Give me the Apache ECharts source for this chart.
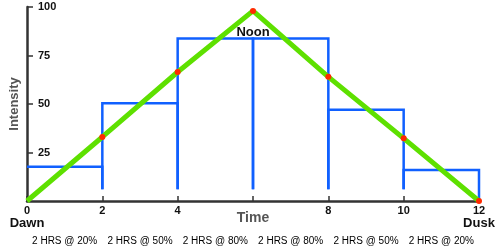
<!DOCTYPE html>
<html>
<head>
<meta charset="utf-8">
<script src="https://cdn.jsdelivr.net/npm/echarts@6/dist/echarts.min.js"></script>
<style>
html,body{margin:0;padding:0;background:#fff;}
#c{width:504px;height:252px;}
</style>
</head>
<body>
<div id="c"></div>
<script>
// Data
const hours = [0, 2, 4, 6, 8, 10, 12];
const intensity = [0, 33, 66.5, 98, 64, 32.3, 0];
const blockStart = [0, 2, 4, 6, 8, 10];
const blockEnd = [2, 4, 6, 8, 10, 12];
const blockLevel = [17.7, 50.4, 83.7, 83.7, 47, 16];
const blockLabels = ['2 HRS @ 20%', '2 HRS @ 50%', '2 HRS @ 80%', '2 HRS @ 80%', '2 HRS @ 50%', '2 HRS @ 20%'];
const xTickLabels = {0: '0', 2: '2', 4: '4', 6: '', 8: '8', 10: '10', 12: '12'};
const yTicks = [25, 50, 75, 100];

const FONT = '"Liberation Sans", Arial, sans-serif';
const chart = echarts.init(document.getElementById('c'));

const blockData = blockStart.map((s, i) => [s, blockEnd[i], blockLevel[i]]);
const lineData = hours.map((h, i) => {
  const item = { value: [h, intensity[i]] };
  if (i === 0) item.symbol = 'none';
  if (h === 6) item.label = {
    show: true, formatter: 'Noon', position: 'bottom', distance: 12,
    fontFamily: FONT, fontWeight: 'bold', fontSize: 13, color: '#111'
  };
  return item;
});

chart.setOption({
  animation: false,
  grid: { left: 25, right: 25, top: 7, bottom: 51, containLabel: false },
  xAxis: [{
    type: 'value', min: 0, max: 12, interval: 2,
    axisLine: { show: true, onZero: false, lineStyle: { color: '#333', width: 2.5 } },
    axisTick: { show: true, inside: true, length: 5, lineStyle: { color: '#333', width: 1.5 } },
    splitLine: { show: false },
    axisLabel: {
      margin: 4,
      formatter: v => {
        const t = xTickLabels[v] || '';
        if (v === 0) return t + '\n{b|Dawn}';
        if (v === 12) return t + '\n{b|Dusk}';
        return t;
      },
      fontFamily: FONT, fontWeight: 'bold', fontSize: 11, color: '#111', lineHeight: 11,
      rich: { b: { fontFamily: FONT, fontWeight: 'bold', fontSize: 13, color: '#111', lineHeight: 15 } }
    },
    name: 'Time', nameLocation: 'middle', nameGap: 10, nameMoveOverlap: false,
    nameTextStyle: { fontFamily: FONT, fontWeight: 'bold', fontSize: 14, color: '#555' }
  }, {
    type: 'value', min: 0, max: 12, interval: 1, position: 'bottom', offset: 35,
    axisLine: { show: false }, axisTick: { show: false }, splitLine: { show: false },
    axisLabel: {
      margin: 0,
      showMinLabel: false, showMaxLabel: false,
      formatter: v => (v % 2 === 1 ? blockLabels[(v - 1) / 2] : ''),
      fontFamily: FONT, fontSize: 10, color: '#000'
    }
  }],
  yAxis: {
    type: 'value', min: 0, max: 100, interval: 25,
    axisLine: { show: true, lineStyle: { color: '#333', width: 2.5 } },
    axisTick: { show: true, inside: true, length: 6, lineStyle: { color: '#333', width: 1.5 } },
    splitLine: { show: false },
    axisLabel: {
      inside: true, margin: 11, showMinLabel: false,
      formatter: v => (yTicks.indexOf(v) >= 0 ? String(v) : ''),
      fontFamily: FONT, fontWeight: 'bold', fontSize: 11, color: '#111'
    },
    name: 'Intensity', nameLocation: 'middle', nameGap: 6, nameRotate: 90, nameMoveOverlap: false,
    nameTextStyle: { fontFamily: FONT, fontWeight: 'bold', fontSize: 13, color: '#555', verticalAlign: 'bottom' }
  },
  series: [{
    type: 'custom',
    data: blockData,
    encode: { x: [0, 1], y: 2 },
    z: 2,
    renderItem: function (params, api) {
      const i = params.dataIndex;
      const x0 = api.value(0), x1 = api.value(1), lvl = api.value(2);
      const base = (i === blockData.length - 1) ? 0 : 6;
      const pts = [];
      if (i > 0) pts.push(api.coord([x0, 6]));
      pts.push(api.coord([x0, lvl]));
      pts.push(api.coord([x1, lvl]));
      pts.push(api.coord([x1, base]));
      return {
        type: 'polyline',
        shape: { points: pts },
        style: { stroke: '#1060ff', lineWidth: 2.5, fill: null }
      };
    }
  }, {
    type: 'line',
    data: lineData,
    z: 3,
    symbol: 'circle', symbolSize: 6,
    showAllSymbol: true,
    lineStyle: { color: '#5ee000', width: 5 },
    itemStyle: { color: '#ff2a00', borderWidth: 0 }
  }]
});
</script>
</body>
</html>
